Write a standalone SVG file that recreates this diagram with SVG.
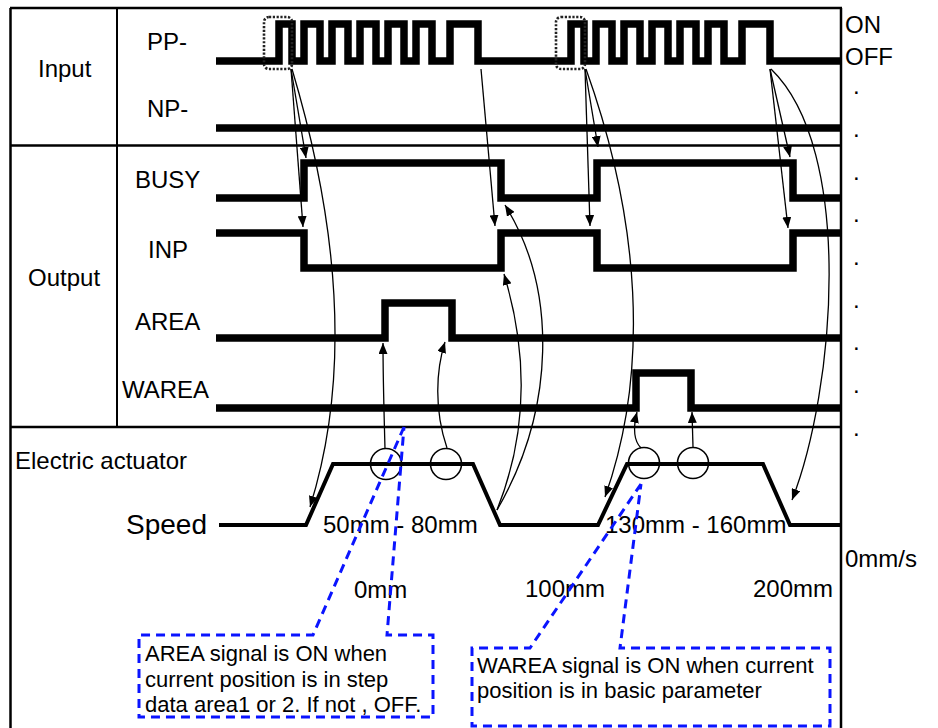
<svg xmlns="http://www.w3.org/2000/svg" width="938" height="728" viewBox="0 0 938 728">
<style>
  .frame{stroke:#000;stroke-width:2.5;fill:none}
  .thin{stroke:#000;stroke-width:2;fill:none}
  .sig{stroke:#000;stroke-width:7.5;fill:none;stroke-linejoin:miter;stroke-linecap:butt}
  .speed{stroke:#000;stroke-width:4;fill:none;stroke-linejoin:miter}
  .conn{stroke:#000;stroke-width:1.3;fill:none;marker-end:url(#ah)}
  .dotbox{stroke:#222;stroke-width:2.6;fill:none;stroke-dasharray:2.2 1.6}
  .circ{stroke:#000;stroke-width:1.6;fill:none}
  .callout{stroke:#0a14ff;stroke-width:3;fill:none;stroke-dasharray:9 6}
  text{font-family:"Liberation Sans",Arial,sans-serif;font-size:24px;fill:#000}
  .big{font-size:28px}
  .note{font-size:22px}
</style>
<defs>
  <marker id="ah" viewBox="0 0 11 9" refX="11" refY="4.5" markerWidth="11" markerHeight="9" markerUnits="userSpaceOnUse" orient="auto">
    <path d="M0,0 L11,4.5 L0,9 z" fill="#000"/>
  </marker>
</defs>
<rect width="938" height="728" fill="#fff"/>

<g id="frame">
  <line class="frame" x1="10.5" y1="8" x2="10.5" y2="728"/>
  <line class="frame" x1="841" y1="8" x2="841" y2="728"/>
  <line class="frame" x1="10" y1="8" x2="842" y2="8"/>
  <line class="frame" x1="10" y1="145.5" x2="842" y2="145.5"/>
  <line class="frame" x1="10" y1="427" x2="842" y2="427"/>
  <line class="thin" x1="117" y1="8" x2="117" y2="427"/>
</g>

<g id="labels">
  <text x="38" y="77">Input</text>
  <text x="28" y="286">Output</text>
  <text x="147" y="50">PP-</text>
  <text x="147" y="117">NP-</text>
  <text x="135" y="188">BUSY</text>
  <text x="148" y="258">INP</text>
  <text x="135" y="330">AREA</text>
  <text x="122" y="398">WAREA</text>
  <text x="15" y="469">Electric actuator</text>
  <text class="big" x="126" y="534">Speed</text>
  <text x="845" y="33">ON</text>
  <text x="845" y="65">OFF</text>
  <text x="853" y="93.5">.</text>
  <text x="853" y="136.5">.</text>
  <text x="853" y="179.5">.</text>
  <text x="853" y="221.5">.</text>
  <text x="853" y="264.5">.</text>
  <text x="853" y="307.5">.</text>
  <text x="853" y="349.5">.</text>
  <text x="853" y="392.5">.</text>
  <text x="853" y="435.5">.</text>
  <text x="845" y="567">0mm/s</text>
  <text x="323" y="533">50mm - 80mm</text>
  <text x="605" y="533">130mm - 160mm</text>
  <text x="354" y="598">0mm</text>
  <text x="525" y="597">100mm</text>
  <text x="753" y="597">200mm</text>
</g>

<g id="signal-pp">
  <path class="sig" d="M216,61 H279 V24 H292 V61 H304 V24 H320 V61 H332 V24 H348 V61 H360 V24 H376 V61 H388 V24 H404 V61 H416 V24 H432 V61 H450 V24 H478 V61 H571 V24 H584 V61 H596 V24 H612 V61 H624 V24 H640 V61 H652 V24 H668 V61 H680 V24 H696 V61 H708 V24 H724 V61 H742 V24 H770 V61 H841"/>
  <rect class="dotbox" x="264" y="17" width="28" height="52" rx="5"/>
  <rect class="dotbox" x="556" y="17" width="29" height="52" rx="5"/>
</g>
<g id="signal-np">
  <path class="sig" d="M216,128 H841"/>
</g>
<g id="signal-busy">
  <path class="sig" d="M216,198 H304 V163 H501 V198 H597 V163 H793 V198 H841"/>
</g>
<g id="signal-inp">
  <path class="sig" d="M216,233 H304 V268 H501 V233 H597 V268 H793 V233 H841"/>
</g>
<g id="signal-area">
  <path class="sig" d="M216,338 H385 V303 H452 V338 H841"/>
</g>
<g id="signal-warea">
  <path class="sig" d="M216,408 H636 V373 H691 V408 H841"/>
</g>
<g id="speed">
  <path class="speed" d="M219,525 H306 L333,464 H473 L500,525 H598 L627,464 H763 L790,525 H841"/>
  <circle class="circ" cx="386" cy="464" r="15.5"/>
  <circle class="circ" cx="446" cy="464" r="15.5"/>
  <circle class="circ" cx="644" cy="463" r="15.5"/>
  <circle class="circ" cx="693" cy="463" r="15.5"/>
</g>

<g id="connectors">
  <path class="conn" d="M291,69 L306,158"/>
  <path class="conn" d="M291,69 L303,227"/>
  <path class="conn" d="M292,69 C340,230 350,380 310,507"/>
  <path class="conn" d="M481,69 L495,226"/>
  <path class="conn" d="M497,510 C525,440 530,360 504,274"/>
  <path class="conn" d="M497,510 C555,410 558,290 505,205"/>
  <path class="conn" d="M585,69 L598,147"/>
  <path class="conn" d="M585,69 L590,226"/>
  <path class="conn" d="M586,69 C640,220 650,370 605,497"/>
  <path class="conn" d="M770,69 L790,157"/>
  <path class="conn" d="M770,69 L788,228"/>
  <path class="conn" d="M771,69 C855,150 835,390 792,500"/>
  <path class="conn" d="M385,449 C384,410 383,380 383,343"/>
  <path class="conn" d="M447,448 C434,410 436,370 445,342"/>
  <path class="conn" d="M641,448 C633,440 633,428 637,412"/>
  <path class="conn" d="M693,447 L692,412"/>
</g>

<g id="callout-area">
  <path class="callout" d="M404,427 L313,635 H139 V717 H433 V635 H387 L404,427"/>
  <text class="note" x="145" y="661">AREA signal is ON when</text>
  <text class="note" x="145" y="687">current position is in step</text>
  <text class="note" x="145" y="712">data area1 or 2. If not , OFF.</text>
</g>
<g id="callout-warea">
  <path class="callout" d="M641,484 L530,648 H472 V726 H830 V648 H620 L641,484"/>
  <text class="note" x="477" y="673">WAREA signal is ON when current</text>
  <text class="note" x="477" y="698">position is in basic parameter</text>
</g>
</svg>
